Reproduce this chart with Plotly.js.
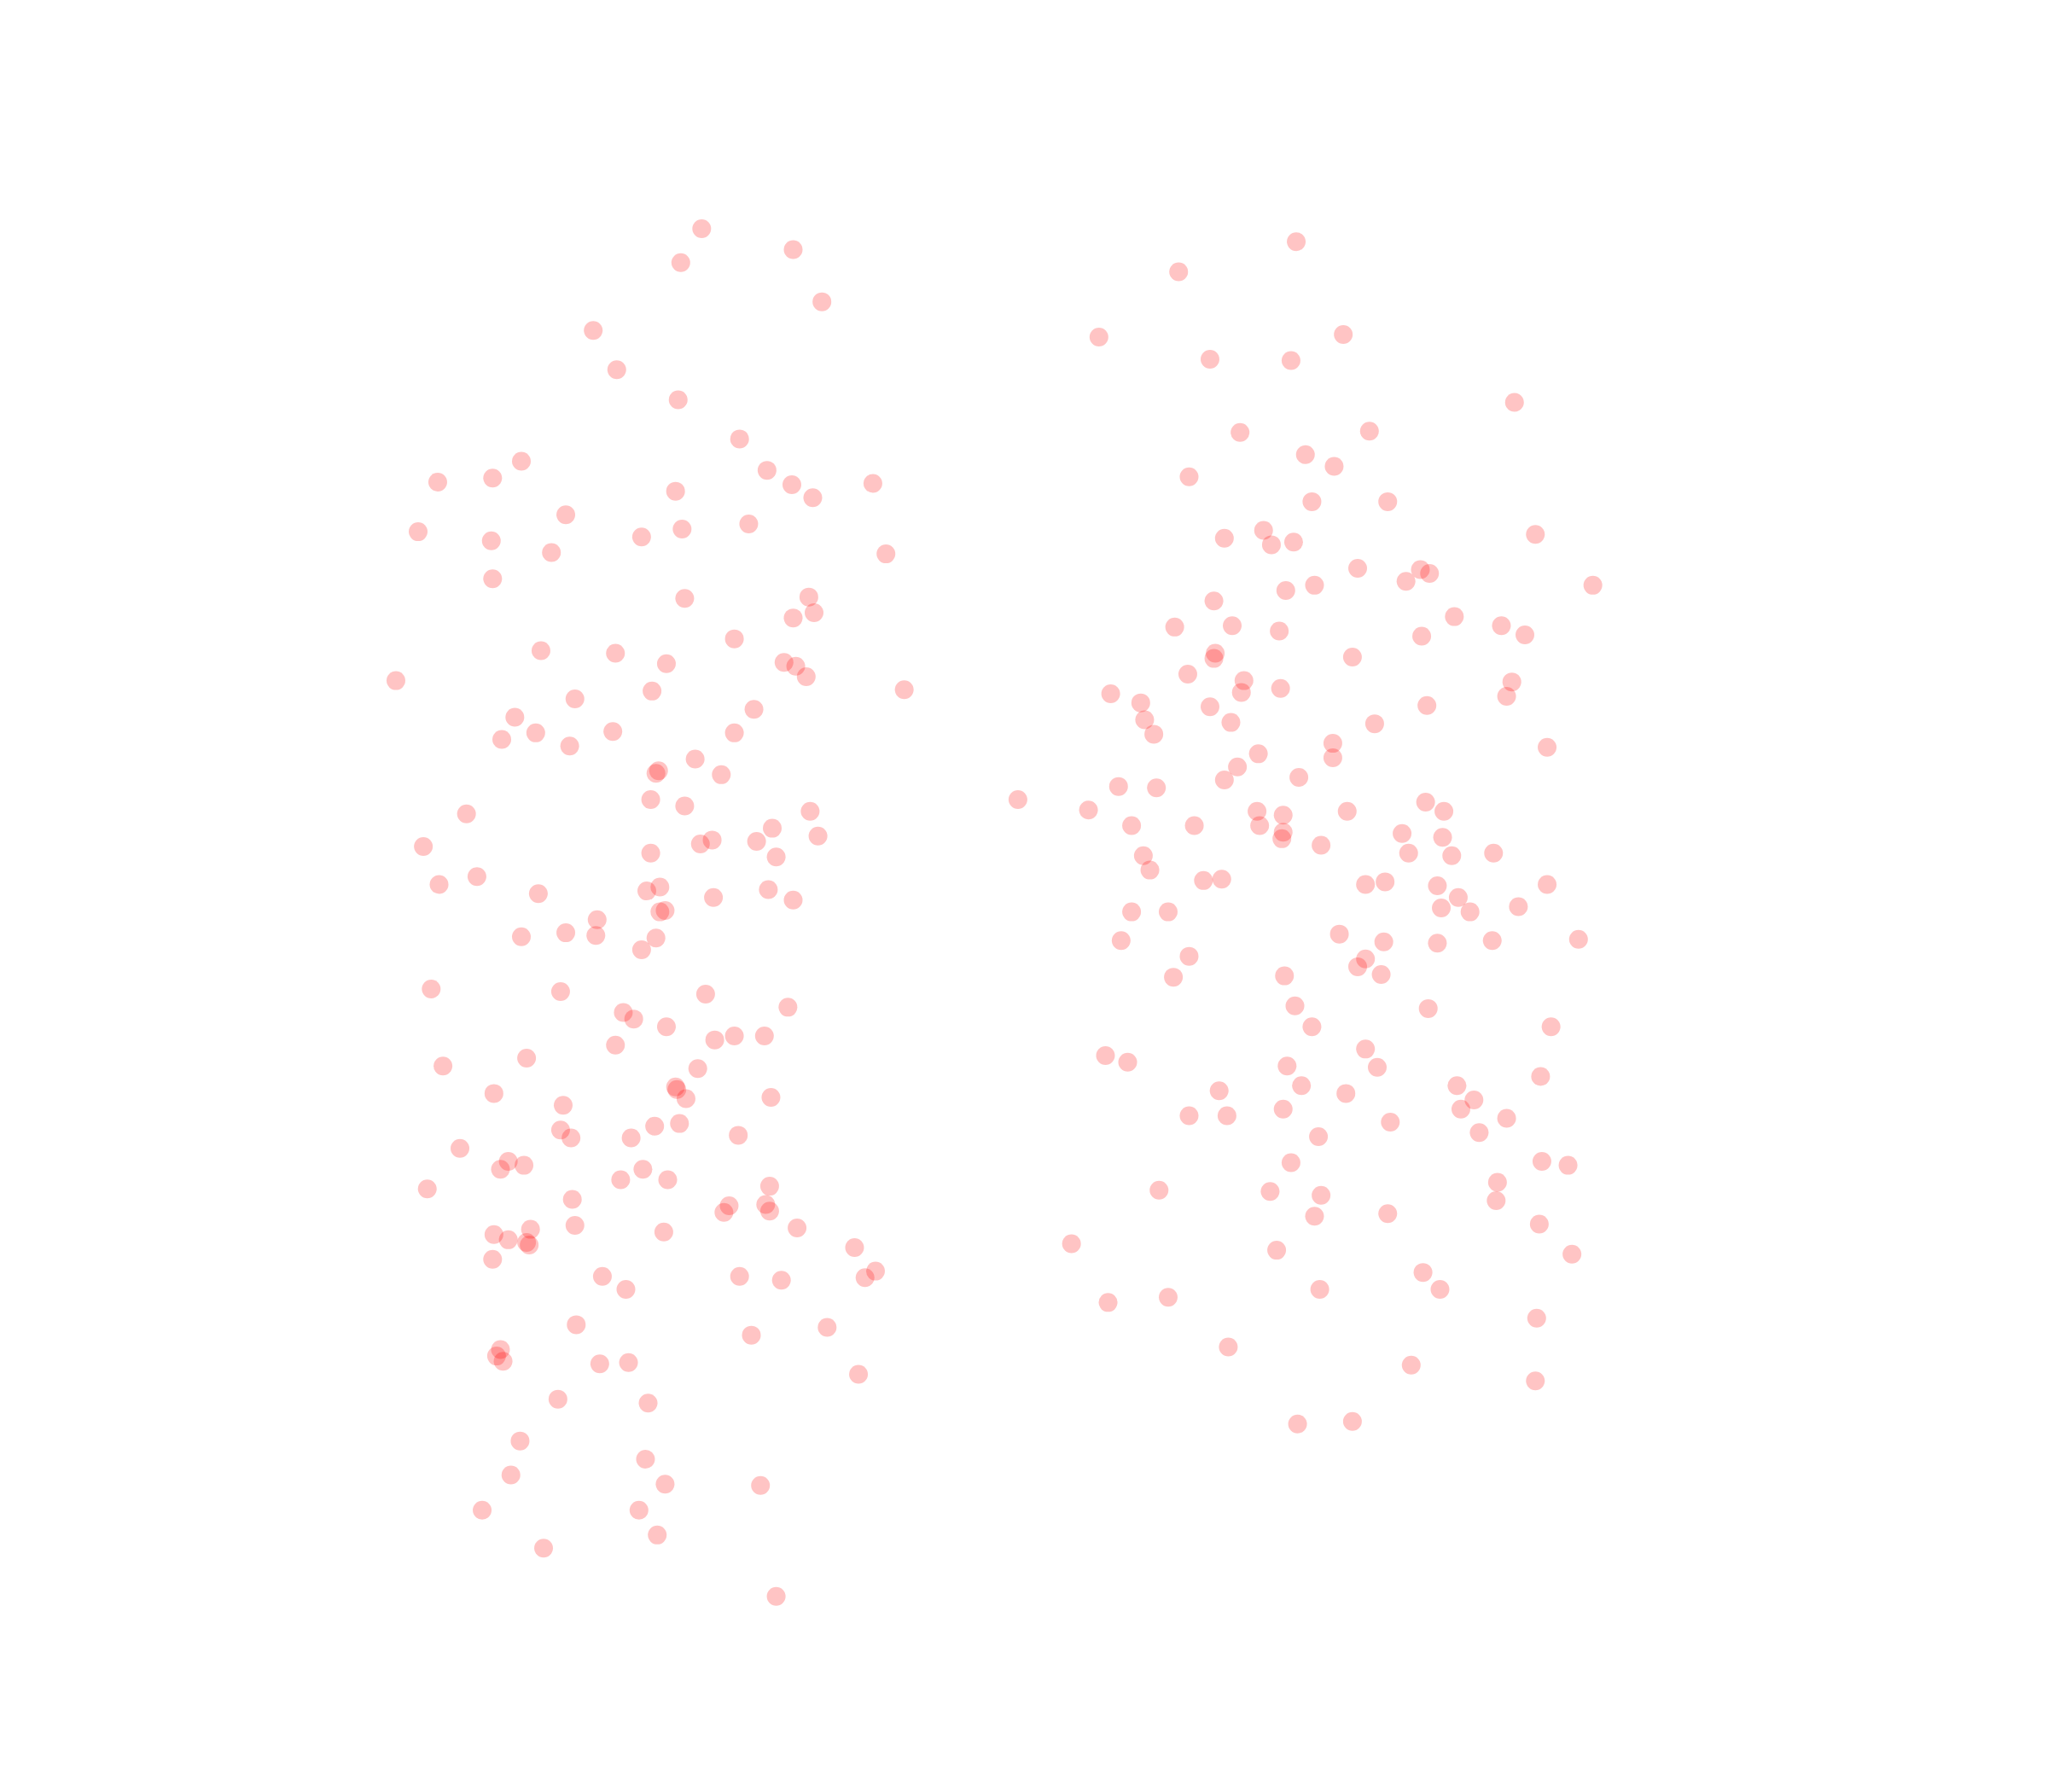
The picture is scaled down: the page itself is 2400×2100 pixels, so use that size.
<!DOCTYPE html>
<html><head><meta charset="utf-8">
<script src="https://cdn.plot.ly/plotly-3.0.1.min.js"></script>
<style>html,body{margin:0;padding:0;background:#fff}</style></head>
<body><div id="chart" style="width:2400px;height:2100px"></div>
<script>
const leftX=[537,607,521,629,454,472,519,566,399,587,377,335,606,668,517,622,433,573,320,522,491,376,422,678,377,524,619,623,607,562,414,471,510,600,609,617,303,692,499,440,577,394,469,410,562,384,436,532,504,502,552,498,524,357,620,591,545,579,536,626,324,498,594,365,336,505,495,412,588,546,607,509,505,457,433,456,399,502,491,330,429,540,603,477,485,510,562,585,547,471,403,339,534,517,518,378,525,590,431,520,501,429,437,483,565,352,389,383,401,492,475,511,589,327,438,558,586,554,589,440,610,406,378,508,389,403,405,654,377,461,566,670,662,598,479,441,633,575,383,380,385,459,481,657,427,496,398,494,391,509,582,369,489,503,416,594];
const leftY=[175,191,201,231,253,283,306,336,353,360,366,369,371,370,376,381,394,401,407,405,411,414,423,424,443,458,457,469,473,489,498,500,508,507,510,518,521,528,529,535,543,549,560,561,561,566,571,581,590,592,593,612,617,623,621,634,643,644,646,640,648,653,656,671,677,679,682,684,681,687,689,697,698,704,714,716,717,718,727,757,759,761,771,775,780,786,793,793,796,800,810,816,818,832,834,837,841,840,846,860,862,865,871,871,869,879,889,895,892,895,903,903,908,910,918,923,922,928,927,938,940,941,945,943,949,951,953,955,964,977,977,973,978,980,987,1014,1016,1022,1033,1038,1042,1044,1043,1052,1071,1074,1103,1117,1129,1136,1137,1156,1156,1175,1185,1222];
const rightX=[992,902,841,1028,926,988,1159,949,1048,999,1021,910,1004,1062,937,967,973,990,1175,1039,1087,1094,1076,1006,984,1219,929,1113,943,899,1149,979,1167,1088,930,929,1035,909,952,1157,980,950,850,1153,873,926,1092,876,942,1052,883,1020,1184,963,1020,947,937,994,856,885,779,1091,833,1031,962,1105,982,866,914,964,1073,982,981,1104,1011,1143,875,1078,1111,880,921,935,1045,1060,1100,1184,1116,866,894,1103,1125,1162,1025,858,1059,1100,1142,1208,910,1045,1039,1057,898,983,991,1093,1004,1187,1045,846,863,1054,985,1179,996,1115,933,1030,1128,982,1118,910,939,1153,1064,1132,1009,988,1180,1200,1146,887,972,1011,1145,1006,1062,1178,820,977,1203,1089,1010,1102,894,848,1176,940,1080,1175,993,1035];
const rightY=[185,208,258,256,275,276,308,331,330,348,357,365,384,384,412,406,417,415,409,435,436,439,445,448,452,448,460,472,479,480,479,483,486,487,500,504,503,516,521,522,527,530,531,533,538,541,540,551,553,554,562,569,572,577,580,587,597,595,602,603,612,614,620,621,621,621,624,632,632,632,638,637,642,641,647,653,655,653,655,666,674,673,677,675,678,677,687,698,698,695,698,694,715,720,721,722,720,719,732,734,740,746,748,747,770,772,786,786,803,808,813,817,816,824,831,831,835,837,842,849,849,854,854,856,859,867,870,890,889,892,905,911,912,915,919,931,929,937,952,957,960,974,987,987,993,997,1009,1031,1045,1057,1090,1088];
const pointColor='rgb(255,0,0)';
const mk=(x,y)=>({type:'scatter',mode:'markers',x,y,hoverinfo:'skip',showlegend:false,
  marker:{color:pointColor,opacity:0.23,size:22,line:{width:0}}});
const hidden={visible:false,fixedrange:true,showgrid:false,zeroline:false};
Plotly.newPlot('chart',[mk(leftX,leftY),mk(rightX,rightY)],{
  width:2400,height:2100,margin:{l:0,r:0,t:0,b:0,pad:0},
  paper_bgcolor:'#fff',plot_bgcolor:'#fff',showlegend:false,
  xaxis:Object.assign({range:[0,1567.3]},hidden),
  yaxis:Object.assign({range:[1371.7,0]},hidden)
},{displayModeBar:false,staticPlot:true});
</script></body></html>
